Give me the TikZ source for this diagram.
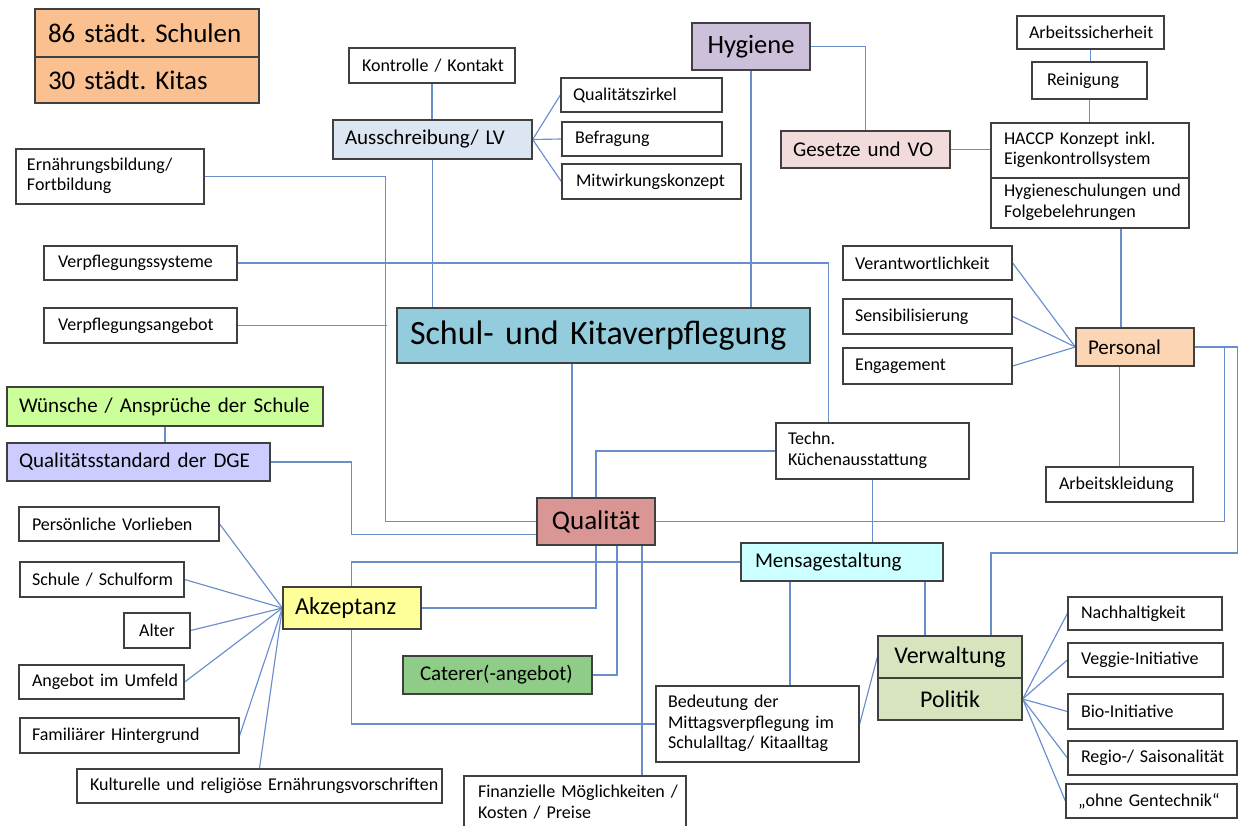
\documentclass[tikz,border=0pt]{standalone}
\usepackage{fontspec}
\setmainfont{Carlito}
\usetikzlibrary{backgrounds}
\definecolor{bdr}{RGB}{64,64,64}
\definecolor{con}{RGB}{105,142,205}
\definecolor{cpeach}{RGB}{250,192,144}
\definecolor{caus}{RGB}{220,230,242}
\definecolor{chyg}{RGB}{204,192,218}
\definecolor{cges}{RGB}{242,220,219}
\definecolor{cschul}{RGB}{147,205,221}
\definecolor{cpers}{RGB}{252,213,180}
\definecolor{cwun}{RGB}{204,255,153}
\definecolor{cdge}{RGB}{204,204,255}
\definecolor{cqual}{RGB}{217,150,148}
\definecolor{cmensa}{RGB}{204,255,255}
\definecolor{cakz}{RGB}{255,255,153}
\definecolor{ccat}{RGB}{143,204,136}
\definecolor{cverw}{RGB}{215,228,189}
\newcommand\fsz[2]{\fontsize{#1}{#2}\selectfont}
\newcommand\mlines[1]{\begin{tabular}[c]{@{}l@{}}#1\end{tabular}}
\newcommand\bx[8]{%
\pgfmathsetmacro\bxw{#5-#3}\pgfmathsetmacro\bxh{#6-#4}\pgfmathsetmacro\bxt{#5-#3-2*#7}%
\node[box,#1,inner xsep=#7pt,minimum width=\bxw pt,minimum height=\bxh pt,text width=\bxt pt] (#2) at ({(#3+#5)/2},{(#4+#6)/2}) {\mbox{#8}};}
\tikzset{
  box/.style={draw=bdr, line width=1.3pt, fill=white, inner ysep=0pt, align=left, font=\fsz{18}{20.5}},
  mid/.style={font=\fsz{21}{25}},
  big/.style={font=\fsz{27}{32}},
  conn/.style={draw=con, line width=1.15pt},
}
\frenchspacing
\begin{document}
\begin{tikzpicture}[x=1pt,y=-1pt]
\useasboundingbox (0,0) rectangle (1238,825);
% top left
\bx{big,fill=cpeach}{schulen}{35}{9}{259}{57}{13}{86 städt. Schulen}
\bx{big,fill=cpeach}{kitas}{35}{57}{259}{103}{13}{30 städt. Kitas}
% Ausschreibung cluster
\bx{}{kon}{349}{48}{515}{83}{13}{Kontrolle / Kontakt}
\bx{mid,fill=caus}{aus}{333}{120}{532}{159}{12}{Ausschreibung/ LV}
\bx{}{qz}{561}{78}{722}{112}{12}{Qualitätszirkel}
\bx{}{bef}{562}{122}{722}{156}{13}{Befragung}
\bx{}{mit}{562}{164}{741}{199}{14}{Mitwirkungskonzept}
% Hygiene cluster
\bx{font=\fsz{26.5}{31},fill=chyg,align=center}{hyg}{692}{23}{810}{70}{4}{Hygiene}
\bx{mid,fill=cges}{ges}{781}{131}{950}{168}{12}{Gesetze und VO}
\bx{}{arb}{1017}{16}{1164}{49}{12}{Arbeitssicherheit}
\bx{}{rein}{1032}{62}{1147}{99}{15}{Reinigung}
\bx{}{hac1}{991}{123}{1189}{178}{13}{\mlines{HACCP Konzept inkl.\\Eigenkontrollsystem}}
\bx{}{hac2}{991}{178}{1189}{228}{13}{\mlines{Hygieneschulungen und\\Folgebelehrungen}}
% left column
\bx{}{ern}{16}{149}{204}{204}{11}{\mlines{Ernährungsbildung/\\Fortbildung}}
\bx{}{vsys}{44}{246}{237}{280}{14}{Verpflegungssysteme}
\bx{}{vang}{44}{308}{237}{343}{14}{Verpflegungsangebot}
% centre
\bx{font=\fsz{34}{40},fill=cschul}{schul}{397}{308}{810}{363}{13}{Schul- und Kitaverpflegung}
% Personal cluster
\bx{}{verant}{843}{246}{1012}{280}{12}{Verantwortlichkeit}
\bx{}{sens}{843}{299}{1012}{334}{12}{Sensibilisierung}
\bx{}{eng}{843}{348}{1012}{384}{12}{Engagement}
\bx{mid,fill=cpers}{pers}{1076}{328}{1194}{366}{12}{Personal}
\bx{}{arbk}{1046}{467}{1193}{502}{13}{Arbeitskleidung}
% DGE
\bx{mid,fill=cwun}{wun}{7}{387}{323}{426}{12}{Wünsche / Ansprüche der Schule}
\bx{mid,fill=cdge}{dge}{7}{443}{270}{481}{12}{Qualitätsstandard der DGE}
% Qualitaet
\bx{}{techn}{776}{423}{969}{479}{12}{\mlines{Techn.\\Küchenausstattung}}
\bx{big,fill=cqual,align=center}{qual}{537}{498}{655}{545}{4}{Qualität}
\bx{mid,fill=cmensa}{mensa}{741}{543}{943}{581}{14}{Mensagestaltung}
\bx{font=\fsz{24.4}{29},fill=cakz}{akz}{283}{587}{421}{629}{12}{Akzeptanz}
\bx{mid,fill=ccat}{cat}{403}{656}{592}{694}{17}{Caterer(-angebot)}
\bx{}{bed}{656}{686}{859}{762}{12}{\mlines{Bedeutung der\\Mittagsverpflegung im\\Schulalltag/ Kitaalltag}}
\bx{}{fin}{464}{776}{686}{832}{14}{\mlines{Finanzielle Möglichkeiten /\\Kosten / Preise}}
% Verwaltung / Politik
\bx{font=\fsz{24}{29},fill=cverw,align=center}{verw}{878}{636}{1022}{678}{4}{Verwaltung}
\bx{font=\fsz{24}{29},fill=cverw,align=center}{pol}{878}{678}{1022}{720}{4}{Politik}
\bx{}{nach}{1068}{597}{1222}{630}{13}{Nachhaltigkeit}
\bx{}{veg}{1068}{643}{1223}{677}{13}{Veggie-Initiative}
\bx{}{bio}{1068}{694}{1223}{729}{13}{Bio-Initiative}
\bx{}{reg}{1068}{741}{1237}{775}{13}{Regio-/ Saisonalität}
\bx{}{ohne}{1066}{784}{1237}{818}{12}{„ohne Gentechnik“}
% Akzeptanz cluster
\bx{}{pv}{19}{507}{219}{541}{13}{Persönliche Vorlieben}
\bx{}{sch}{20}{562}{184}{597}{12}{Schule / Schulform}
\bx{align=center}{alt}{124}{613}{190}{648}{4}{Alter}
\bx{}{ang}{19}{665}{184}{699}{13}{Angebot im Umfeld}
\bx{}{fam}{20}{718}{239}{753}{12}{Familiärer Hintergrund}
\bx{}{kul}{77}{769}{442}{803}{13}{Kulturelle und religiöse Ernährungsvorschriften}
% connectors
\begin{scope}[on background layer]
\begin{scope}[conn]
\draw (kon.south) -- (kon.south |- aus.north);
\draw (aus.east) -- (qz.west);
\draw (aus.east) -- (bef.west);
\draw (aus.east) -- (mit.west);
\draw (aus.south) -- (aus.south |- schul.north);
\draw (hyg.south) -- (hyg.south |- schul.north);
\draw (hyg.east) -| (ges.north);
\draw (ges.east) -- (ges.east -| hac1.west);
\draw (arb.south) -- (arb.south |- rein.north);
\draw (rein.south) -- (rein.south |- hac1.north);
\draw ([xshift=31pt]hac2.south) -- ++(0,100);
\draw (ern.east) -| ([xshift=-151pt]qual.west) -- (qual.west);
\draw (vang.east) -- ++(149,0);
\draw (vsys.east) -| ([xshift=-44pt]techn.north);
\draw ([xshift=-24pt]qual.north) -- ++(0,-135);
\draw (qual.north) |- (techn.west);
\draw (techn.south) -- (techn.south |- mensa.north);
\draw (wun.south) -- (wun.south |- dge.north);
\draw (dge.east) -| ([xshift=-185pt,yshift=-13pt]qual.west) -- ([yshift=-13pt]qual.west);
\draw (verant.east) -- (pers.west);
\draw (sens.east) -- (pers.west);
\draw (eng.east) -- (pers.west);
\draw (arbk.north) -- (arbk.north |- pers.south);
\draw (pers.east) -- ++(43,0) -- ++(0,206) -| ([xshift=41pt]verw.north);
\draw (qual.east) -- ++(569,0) |- (pers.east);
\draw (mensa.west) -- ++(-389,0) |- (bed.west);
\draw ([xshift=-52pt]mensa.south) -- ++(0,105);
\draw ([xshift=83pt]mensa.south) -- ++(0,55);
\draw (qual.south) |- (akz.east);
\draw ([xshift=21pt]qual.south) |- (cat.east);
\draw ([xshift=46pt]qual.south) -- ++(0,231);
\draw (bed.east) -- (verw.west);
\foreach \n in {nach,veg,bio,reg,ohne} \draw (pol.east) -- (\n.west);
\foreach \n in {pv,sch,alt,ang,fam} \draw (akz.west) -- (\n.east);
\draw (akz.west) -- (kul.north);
\end{scope}
\end{scope}
\end{tikzpicture}
\end{document}
